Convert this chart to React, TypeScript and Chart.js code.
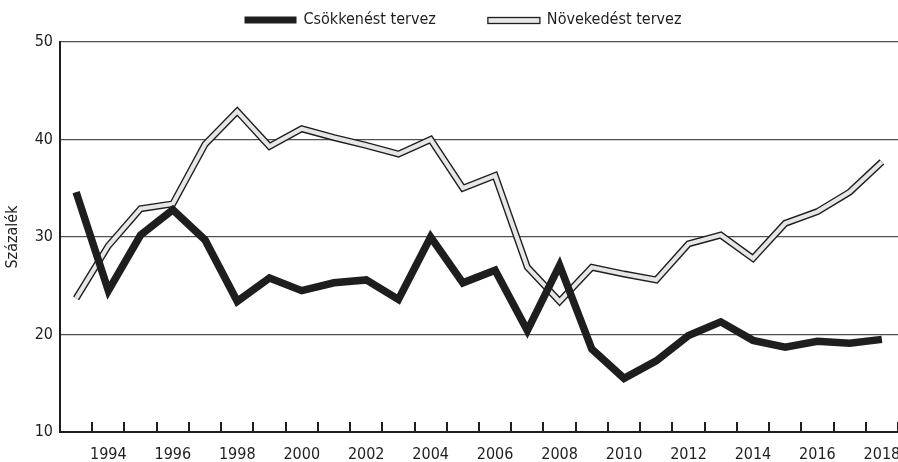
import React, { useEffect, useRef } from "react";
import { Chart, registerables } from "chart.js";

Chart.register(...registerables);

const years: string[] = [
  "1993", "1994", "1995", "1996", "1997", "1998", "1999", "2000", "2001",
  "2002", "2003", "2004", "2005", "2006", "2007", "2008", "2009", "2010",
  "2011", "2012", "2013", "2014", "2015", "2016", "2017", "2018",
];

const decreasePlan: number[] = [
  34.6, 24.5, 30.2, 32.8, 29.7, 23.4, 25.8, 24.5, 25.3, 25.6, 23.6, 30.0, 25.3,
  26.6, 20.4, 27.1, 18.5, 15.5, 17.3, 19.9, 21.3, 19.4, 18.7, 19.3, 19.1, 19.5,
];

const increasePlan: number[] = [
  23.7, 29.1, 32.9, 33.4, 39.5, 42.9, 39.3, 41.1, 40.2, 39.4, 38.5, 40.0, 35.0,
  36.3, 26.9, 23.4, 26.9, 26.2, 25.6, 29.3, 30.2, 27.8, 31.4, 32.6, 34.6, 37.7,
];

const seriesLabels: string[] = ["Csökkenést tervez", "Növekedést tervez"];
const yAxisTitle = "Százalék";
const yMin = 10;
const yMax = 50;
const yStep = 10;

const FONT =
  "'Liberation Sans Narrow', 'DejaVu Sans Condensed', 'Roboto Condensed', 'Liberation Sans', sans-serif";
const FONT_SIZE = 16;

const innerTicksPlugin = {
  id: "innerTicks",
  afterDraw(chart: any) {
    const xs = chart.scales.x;
    const area = chart.chartArea;
    const ctx = chart.ctx;
    const n = chart.data.labels.length;
    const half = (xs.getPixelForValue(1) - xs.getPixelForValue(0)) / 2;
    ctx.save();
    ctx.strokeStyle = "#1e1e1e";
    ctx.lineWidth = 2;
    for (let i = 1; i <= n; i++) {
      const x = Math.round(xs.getPixelForValue(i) - half);
      ctx.beginPath();
      ctx.moveTo(x, area.bottom);
      ctx.lineTo(x, area.bottom - 10);
      ctx.stroke();
    }
    ctx.restore();
  },
};

const customLegendPlugin = {
  id: "customLegend",
  afterDraw(chart: any) {
    const ctx = chart.ctx;
    ctx.save();
    ctx.font = `${FONT_SIZE}px ${FONT}`;
    ctx.textBaseline = "middle";
    ctx.textAlign = "left";
    const boxW = 52;
    const boxH = 7;
    const gapText = 7;
    const gapItem = 52;
    const w0 = ctx.measureText(seriesLabels[0]).width;
    const w1 = ctx.measureText(seriesLabels[1]).width;
    const total = boxW + gapText + w0 + gapItem + boxW + gapText + w1;
    let x = 463 - total / 2;
    const yc = 20;
    ctx.fillStyle = "#1e1e1e";
    ctx.fillRect(x, yc - boxH / 2, boxW, boxH);
    ctx.fillText(seriesLabels[0], x + boxW + gapText, yc);
    x += boxW + gapText + w0 + gapItem;
    ctx.fillStyle = "#e6e6e6";
    ctx.fillRect(x, yc - boxH / 2 + 1, boxW, boxH - 1);
    ctx.strokeStyle = "#1e1e1e";
    ctx.lineWidth = 1.3;
    ctx.strokeRect(x, yc - boxH / 2 + 1, boxW, boxH - 1);
    ctx.fillStyle = "#1e1e1e";
    ctx.fillText(seriesLabels[1], x + boxW + gapText, yc);
    ctx.restore();
  },
};

export default function App() {
  const canvasRef = useRef<HTMLCanvasElement | null>(null);

  useEffect(() => {
    if (!canvasRef.current) return;
    const chart = new Chart(canvasRef.current, {
      type: "line",
      data: {
        labels: years,
        datasets: [
          {
            label: seriesLabels[0],
            data: decreasePlan,
            borderColor: "#1e1e1e",
            backgroundColor: "#1e1e1e",
            borderWidth: 7.5,
            pointRadius: 0,
            tension: 0,
            borderJoinStyle: "miter",
            borderCapStyle: "butt",
          },
          {
            label: seriesLabels[1],
            data: increasePlan,
            borderColor: "#e6e6e6",
            backgroundColor: "#e6e6e6",
            borderWidth: 4.2,
            pointRadius: 0,
            tension: 0,
            borderJoinStyle: "miter",
            borderCapStyle: "butt",
          },
          {
            label: seriesLabels[1] + " (outline)",
            data: increasePlan,
            borderColor: "#1e1e1e",
            backgroundColor: "#1e1e1e",
            borderWidth: 7,
            pointRadius: 0,
            tension: 0,
            borderJoinStyle: "miter",
            borderCapStyle: "butt",
          },
        ],
      },
      options: {
        animation: false,
        responsive: true,
        maintainAspectRatio: false,
        layout: { padding: { top: 42, right: 0, bottom: 0, left: 0 } },
        plugins: {
          legend: { display: false },
          tooltip: { enabled: false },
        },
        scales: {
          x: {
            type: "category",
            offset: true,
            grid: { display: false, drawTicks: false },
            border: { display: true, color: "#1e1e1e", width: 2 },
            ticks: {
              autoSkip: false,
              maxRotation: 0,
              minRotation: 0,
              padding: 13,
              color: "#1e1e1e",
              font: { family: FONT, size: FONT_SIZE },
              callback: (_v: any, i: number) =>
                Number(years[i]) % 2 === 0 ? years[i] : "",
            },
            afterFit: (s: any) => {
              s.height = 30;
              s.paddingLeft = 0;
              s.paddingRight = 0;
            },
          },
          y: {
            min: yMin,
            max: yMax,
            grid: { color: "#505050", lineWidth: 1.3, drawTicks: false },
            border: { display: true, color: "#1e1e1e", width: 2 },
            ticks: {
              stepSize: yStep,
              padding: 7,
              color: "#1e1e1e",
              font: { family: FONT, size: FONT_SIZE },
            },
            title: {
              display: true,
              text: yAxisTitle,
              color: "#1e1e1e",
              font: { family: FONT, size: 16 },
              padding: { top: 3, bottom: 0 },
            },
            afterFit: (s: any) => {
              s.width = 60;
            },
          },
        },
      },
      plugins: [innerTicksPlugin, customLegendPlugin],
    });
    return () => chart.destroy();
  }, []);

  return (
    <div
      style={{
        position: "absolute",
        left: 0,
        top: 0,
        width: "898px",
        height: "462px",
        background: "#ffffff",
      }}
    >
      <canvas ref={canvasRef} style={{ display: "block" }} />
    </div>
  );
}
